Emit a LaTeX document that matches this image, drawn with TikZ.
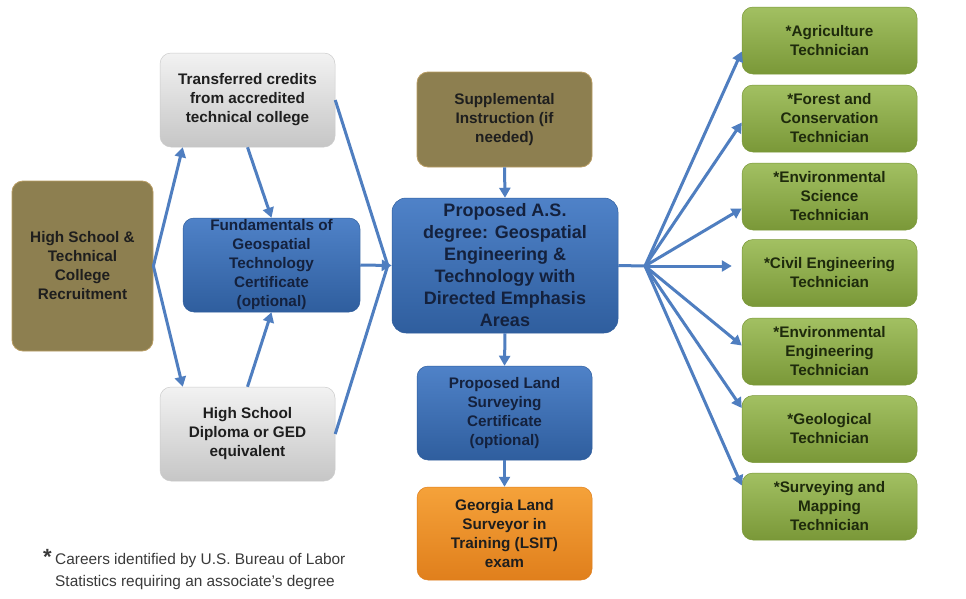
\documentclass[tikz,border=0pt]{standalone}
\usepackage{fontspec}
\setmainfont{Liberation Sans}
\usetikzlibrary{arrows.meta}
\definecolor{arrowblue}{HTML}{4F7EC0}
\definecolor{olivefill}{HTML}{8D7F50}
\definecolor{oliveedge}{HTML}{B89C62}
\definecolor{grayTop}{HTML}{F2F2F2}
\definecolor{grayBot}{HTML}{C6C6C6}
\definecolor{blueTop}{HTML}{4F82C8}
\definecolor{blueBot}{HTML}{2F5E9E}
\definecolor{greenTop}{HTML}{A2C062}
\definecolor{greenBot}{HTML}{7A9838}
\definecolor{orangeTop}{HTML}{F5A23A}
\definecolor{orangeBot}{HTML}{E07F1C}
\definecolor{darktext}{HTML}{1E1E1E}
\definecolor{navytext}{HTML}{14213D}
\definecolor{greentext}{HTML}{1E2A0C}
\definecolor{notetext}{HTML}{3A3A3A}
\tikzset{
  basebox/.style={rounded corners=11pt, align=center, inner sep=0pt,
    font=\bfseries\fontsize{15.3}{19}\selectfont},
  graybox/.style={basebox, top color=grayTop, bottom color=grayBot, draw=grayBot!90, line width=0.5pt,
    text=darktext, minimum width=175pt, minimum height=94pt},
  olivebox/.style={basebox, fill=olivefill, draw=oliveedge, line width=0.8pt, text=darktext},
  bluebox/.style={basebox, top color=blueTop, bottom color=blueBot, draw=blueBot, line width=0.5pt, text=navytext},
  greenbox/.style={basebox, top color=greenTop, bottom color=greenBot, draw=greenBot, line width=0.5pt,
    text=greentext, minimum width=175pt, minimum height=67pt},
  orangebox/.style={basebox, top color=orangeTop, bottom color=orangeBot, draw=orangeBot, line width=0.5pt,
    text=darktext, minimum width=175pt, minimum height=93pt},
  conn/.style={draw=arrowblue, line width=3pt},
  arr/.style={conn, -{Triangle[length=10pt,width=11pt]}}
}
\begin{document}
\begin{tikzpicture}[x=1pt,y=-1pt]
\useasboundingbox (0,0) rectangle (966,598);
\fill[white] (0,0) rectangle (966,598);

% left column
\node[olivebox, minimum width=141pt, minimum height=170pt] (rec) at (82.5,266) {High School \&\\Technical\\College\\Recruitment};
\node[graybox] (tc) at (247.5,100) {Transferred credits\\from accredited\\technical college};
\node[graybox] (hs) at (247.5,434) {High School\\Diploma or GED\\equivalent};
\node[bluebox, minimum width=177pt, minimum height=94pt] (fund) at (271.5,265) {Fundamentals of\\Geospatial\\Technology\\Certificate\\(optional)};

% middle column
\node[olivebox, minimum width=175pt, minimum height=95pt] (sup) at (504.5,119.5) {Supplemental\\Instruction (if\\needed)};
\node[bluebox, minimum width=226pt, minimum height=135pt, rounded corners=14pt,
  font=\bfseries\fontsize{18}{22}\selectfont] (cen) at (505,265.5)
  {Proposed A.S.\\degree: Geospatial\\Engineering \&\\Technology with\\Directed Emphasis\\Areas};
\node[bluebox, minimum width=175pt, minimum height=94pt] (ls) at (504.5,413) {Proposed Land\\Surveying\\Certificate\\(optional)};
\node[orangebox] (ga) at (504.5,533.5) {Georgia Land\\Surveyor in\\Training (LSIT)\\exam};

% right column
\node[greenbox] (g1) at (829.5,40.5) {*Agriculture\\Technician};
\node[greenbox] (g2) at (829.5,118.5) {*Forest and\\Conservation\\Technician};
\node[greenbox] (g3) at (829.5,196.5) {*Environmental\\Science\\Technician};
\node[greenbox] (g4) at (829.5,273) {*Civil Engineering\\Technician};
\node[greenbox] (g5) at (829.5,351.5) {*Environmental\\Engineering\\Technician};
\node[greenbox] (g6) at (829.5,429) {*Geological\\Technician};
\node[greenbox] (g7) at (829.5,506.5) {*Surveying and\\Mapping\\Technician};

% footnote
\node[anchor=north west, text=notetext, font=\bfseries\fontsize{22}{22}\selectfont, inner sep=0pt] (star) at (43,549) {*};
\node[anchor=north west, align=left, text=notetext, inner sep=0pt,
  font=\fontsize{15.4}{22}\selectfont] (note) at (55,553)
  {Careers identified by U.S. Bureau of Labor\\Statistics requiring an associate's degree};

% connectors: left
\draw[arr] (rec.east) -- ([xshift=23pt]tc.south west);
\draw[arr] (rec.east) -- ([xshift=23pt]hs.north west);
\draw[arr] (tc.south) -- (fund.north);
\draw[arr] (hs.north) -- (fund.south);
\coordinate (cin) at ([xshift=-4pt]cen.west);
\draw[conn] (tc.east) -- (cin);
\draw[conn] (hs.east) -- (cin);
\draw[arr] (fund.east) -- (cen.west);

% connectors: middle
\draw[arr] (sup.south) -- (cen.north);
\draw[arr] (cen.south) -- (ls.north);
\draw[arr] (ls.south) -- (ga.north);

% connectors: right fan
\coordinate (fan) at (645,266);
\draw[conn] (cen.east) -- (fan);
\draw[arr] (fan) -- ([yshift=-11pt]g1.west);
\draw[arr] (fan) -- ([yshift=-4pt]g2.west);
\draw[arr] (fan) -- ([yshift=-12pt]g3.west);
\draw[arr, shorten >=10pt] (fan) -- (fan -| g4.west);
\draw[arr] (fan) -- ([yshift=6pt]g5.west);
\draw[arr] (fan) -- ([yshift=21pt]g6.west);
\draw[arr] (fan) -- ([yshift=21pt]g7.west);
\end{tikzpicture}
\end{document}
